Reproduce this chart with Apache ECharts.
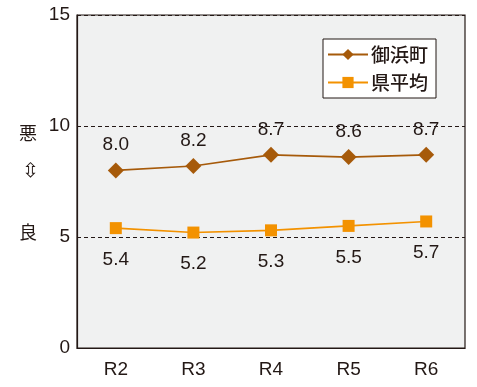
<!DOCTYPE html>
<html><head><meta charset="utf-8">
<script src="https://cdn.jsdelivr.net/npm/echarts@6/dist/echarts.min.js"></script>
<style>html,body{margin:0;padding:0;background:#fff}#c{width:477px;height:387px}</style>
</head><body><div id="c"></div>
<script>
const categories = ['R2','R3','R4','R5','R6'];
const mihama = [8.0, 8.2, 8.7, 8.6, 8.7];
const kenAvg = [5.4, 5.2, 5.3, 5.5, 5.7];
const yTicks = [0, 5, 10, 15];
const seriesNames = ['御浜町','県平均'];
const sideLabels = ['悪','⇳','良'];

const dark = '#231815';
const chart = echarts.init(document.getElementById('c'), null, {renderer:'canvas'});
chart.setOption({
  animation:false,
  backgroundColor:'#fff',
  textStyle:{fontFamily:'Liberation Sans, Arial, sans-serif'},
  grid:{left:77, right:12, top:15, bottom:39, show:true, backgroundColor:'#f0f1f1', borderColor:dark, borderWidth:1.2},
  graphic: sideLabels.map((t,i)=>({
    type:'text', left:i===1?22:19, top:[124,162,223][i],
    style:{text:t, font:i===1?'20px "DejaVu Sans"':'18px "Noto Sans CJK JP"', fill:dark}
  })),
  legend:{
    left:323, top:39, orient:'vertical', itemWidth:40, itemHeight:14, itemGap:9,
    backgroundColor:'#fff', borderColor:dark, borderWidth:1, borderRadius:0,
    padding:[6,8,6,4],
    textStyle:{fontSize:19, color:dark, fontFamily:'Noto Sans CJK JP', fontWeight:500, padding:[0,0,0,-2]},
    data:seriesNames
  },
  xAxis:{
    type:'category', data:categories, boundaryGap:true,
    axisLine:{lineStyle:{color:dark, width:1.2}},
    axisTick:{inside:true, length:6, lineStyle:{color:dark}},
    axisLabel:{fontSize:19, color:dark, margin:12}
  },
  yAxis:{
    type:'value', min:yTicks[0], max:yTicks[yTicks.length-1], interval:5,
    axisLine:{show:true, lineStyle:{color:dark, width:1.2}},
    axisTick:{show:false},
    axisLabel:{fontSize:19, color:dark, margin:7},
    splitLine:{show:true, lineStyle:{color:dark, type:[4,3], width:1}}
  },
  series:[
    {name:seriesNames[0], type:'line', data:mihama, symbol:'diamond', symbolSize:16,
     lineStyle:{color:'#a65a0a', width:1.6}, itemStyle:{color:'#a65a0a'},
     label:{show:true, position:'top', distance:8, fontSize:19, color:dark, formatter:p=>p.value.toFixed(1)}},
    {name:seriesNames[1], type:'line', data:kenAvg, symbol:'rect', symbolSize:12,
     lineStyle:{color:'#f39200', width:1.6}, itemStyle:{color:'#f39200'},
     label:{show:true, position:'bottom', distance:16, fontSize:19, color:dark, formatter:p=>p.value.toFixed(1)}}
  ]
});
</script></body></html>
